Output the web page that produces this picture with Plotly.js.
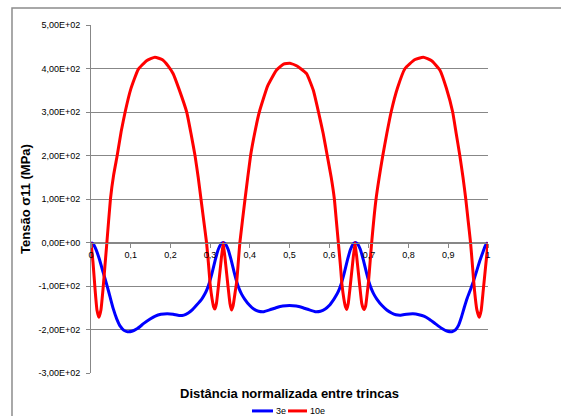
<!DOCTYPE html>
<html>
<head>
<meta charset="utf-8">
<script src="https://cdn.plot.ly/plotly-3.0.1.min.js"></script>
<style>
  html, body { margin: 0; padding: 0; background: #fff; }
  #chart { width: 561px; height: 416px; }
</style>
</head>
<body>
<div id="chart"></div>
<script>
// Normalised distance between cracks and the sigma11 stress (MPa) along it.
const seriesNames = ['3e', '10e'];
const seriesColors = ['#0000FF', '#FF0000'];

const x3e = [
  0, 0.006, 0.013, 0.021, 0.031, 0.040, 0.048, 0.056, 0.065, 0.074, 0.083, 0.092,
  0.103, 0.118, 0.133, 0.149, 0.162, 0.176, 0.192, 0.207, 0.222, 0.234, 0.245,
  0.255, 0.265, 0.279, 0.287, 0.293, 0.299, 0.305, 0.313, 0.321, 0.328, 0.333,
  0.338, 0.345, 0.353, 0.361, 0.367, 0.373, 0.379, 0.387, 0.400, 0.410, 0.422,
  0.435, 0.450, 0.466, 0.483, 0.500, 0.517, 0.534, 0.550, 0.565, 0.578, 0.590,
  0.600, 0.612, 0.620, 0.626, 0.632, 0.638, 0.646, 0.654, 0.661, 0.666, 0.671,
  0.678, 0.686, 0.694, 0.700, 0.706, 0.712, 0.720, 0.733, 0.745, 0.757, 0.768,
  0.780, 0.795, 0.811, 0.826, 0.840, 0.853, 0.868, 0.883, 0.898, 0.909, 0.918,
  0.926, 0.933, 0.940, 0.948, 0.956, 0.963, 0.971, 0.979, 0.988, 0.994, 1.000
];
const y3e = [
  0, -4, -17, -38, -70, -98, -125, -152, -176, -193, -202, -205,
  -204, -197, -186, -176, -169, -165, -164, -165, -168, -167, -162,
  -155, -145, -130, -118, -106, -90, -70, -40, -15, -3, 0,
  -3, -15, -40, -70, -90, -106, -118, -130, -145, -153, -158,
  -159, -155, -150, -146, -145, -146, -150, -155, -159, -158, -153,
  -145, -130, -118, -106, -90, -70, -40, -15, -3, 0, -3,
  -15, -40, -70, -90, -106, -118, -130, -145, -155, -162, -166,
  -167, -165, -164, -166, -170, -177, -187, -197, -204, -205, -201,
  -190, -172, -150, -127, -108, -90, -67, -43, -20, -6, 0
];

const x10e = [
  0, 0.005, 0.010, 0.015, 0.020, 0.025, 0.030, 0.035, 0.040, 0.049, 0.057, 0.066,
  0.076, 0.086, 0.100, 0.119, 0.140, 0.161, 0.180, 0.195, 0.207, 0.222, 0.241,
  0.252, 0.262, 0.270, 0.277, 0.284, 0.291, 0.296, 0.300, 0.305, 0.309, 0.312,
  0.316, 0.321, 0.327, 0.333, 0.339, 0.345, 0.350, 0.354, 0.358, 0.363, 0.367,
  0.371, 0.375, 0.388, 0.402, 0.412, 0.424, 0.445, 0.467, 0.485, 0.501, 0.520,
  0.543, 0.560, 0.573, 0.585, 0.595, 0.605, 0.613, 0.618, 0.623, 0.628, 0.632,
  0.637, 0.641, 0.644, 0.648, 0.653, 0.659, 0.665, 0.671, 0.677, 0.682, 0.686,
  0.688, 0.692, 0.696, 0.699, 0.703, 0.707, 0.718, 0.735, 0.745, 0.756, 0.772,
  0.791, 0.815, 0.837, 0.858, 0.879, 0.895, 0.911, 0.920, 0.929, 0.937, 0.944,
  0.950, 0.956, 0.961, 0.966, 0.972, 0.978, 0.983, 0.988, 0.994, 1.000
];
const y10e = [
  0, -45, -105, -155, -172, -155, -110, -55, 0, 100, 155, 200,
  255, 300, 352, 398, 418, 426, 420, 405, 388, 352, 300,
  250, 200, 150, 100, 50, 0, -50, -95, -130, -148, -153,
  -140, -100, -48, 0, -48, -100, -140, -155, -145, -115, -90,
  -45, 0, 100, 200, 250, 300, 360, 396, 410, 412, 405,
  388, 350, 300, 250, 200, 150, 100, 50, 0, -50, -95,
  -130, -148, -154, -140, -100, -48, 0, -48, -100, -140, -152,
  -154, -145, -115, -90, -45, 0, 100, 200, 250, 300, 355,
  400, 420, 426, 418, 396, 355, 300, 250, 200, 150, 100,
  50, 0, -55, -110, -155, -172, -155, -110, -55, 0
];

const yTickVals = [-300, -200, -100, 0, 100, 200, 300, 400, 500];
const yTickText = ['-3,00E+02', '-2,00E+02', '-1,00E+02', '0,00E+00', '1,00E+02',
                   '2,00E+02', '3,00E+02', '4,00E+02', '5,00E+02'];

const yTitle = 'Tensão σ11 (MPa)';
const xTitle = 'Distância normalizada entre trincas';

const gridGray = '#878787';
const tickFont = { family: 'Liberation Sans, Arial, sans-serif', size: 9, color: '#000' };
const titleFont = { family: 'Liberation Sans, Arial, sans-serif', size: 13, color: '#000', weight: 'bold' };

const lineStyle = (color) => ({ color: color, width: 3, shape: 'spline', smoothing: 0.4 });

const traces = [
  { x: x3e, y: y3e, name: seriesNames[0], type: 'scatter', mode: 'lines', line: lineStyle(seriesColors[0]) },
  { x: x10e, y: y10e, name: seriesNames[1], type: 'scatter', mode: 'lines', line: lineStyle(seriesColors[1]) }
];

// Compact legend under the axis title: a short line sample followed by the series name.
const legendY = -0.109;
const legendItems = [
  { x0: 0.4055, x1: 0.4584 },
  { x0: 0.4962, x1: 0.5441 }
];
const legendShapes = legendItems.map((it, i) => ({
  type: 'line', xref: 'paper', yref: 'paper',
  x0: it.x0, x1: it.x1, y0: legendY, y1: legendY,
  line: { color: seriesColors[i], width: 3 }
}));
const legendLabels = legendItems.map((it, i) => ({
  text: seriesNames[i], font: tickFont,
  xref: 'paper', yref: 'paper',
  x: it.x1 + 0.002, y: legendY, xanchor: 'left', yanchor: 'middle',
  showarrow: false
}));

const layout = {
  width: 561,
  height: 416,
  margin: { l: 91, r: 73, t: 25, b: 43, autoexpand: false },
  paper_bgcolor: '#fff',
  plot_bgcolor: '#fff',
  separators: ',.',
  showlegend: false,
  xaxis: {
    range: [0, 1],
    tick0: 0,
    dtick: 0.1,
    showgrid: false,
    zeroline: false,
    showline: true,
    linecolor: gridGray,
    linewidth: 1,
    ticks: 'outside',
    ticklen: 4,
    tickcolor: gridGray,
    tickfont: tickFont,
    anchor: 'free',
    position: 0.375,
    fixedrange: true
  },
  yaxis: {
    range: [-300, 500],
    tickvals: yTickVals,
    ticktext: yTickText,
    showgrid: true,
    gridcolor: gridGray,
    gridwidth: 1,
    zeroline: false,
    showline: true,
    linecolor: gridGray,
    linewidth: 1,
    ticks: 'outside',
    ticklen: 4,
    tickcolor: gridGray,
    tickfont: tickFont,
    ticklabelstandoff: 4,
    title: { text: yTitle, font: titleFont, standoff: 4 },
    fixedrange: true
  },
  annotations: [
    {
      text: xTitle, font: titleFont,
      xref: 'paper', yref: 'paper',
      x: 0.5, y: -0.0575, xanchor: 'center', yanchor: 'middle',
      showarrow: false
    }
  ].concat(legendLabels),
  shapes: [
    {
      // chart-area frame
      type: 'rect', xref: 'paper', yref: 'paper',
      x0: -0.199, x1: 1.6, y0: -0.6, y1: 1.049,
      line: { color: '#8c8c8c', width: 1.5 },
      fillcolor: 'rgba(0,0,0,0)',
      layer: 'below'
    }
  ].concat(legendShapes)
};

Plotly.newPlot('chart', traces, layout, { displayModeBar: false, staticPlot: true });
</script>
</body>
</html>
